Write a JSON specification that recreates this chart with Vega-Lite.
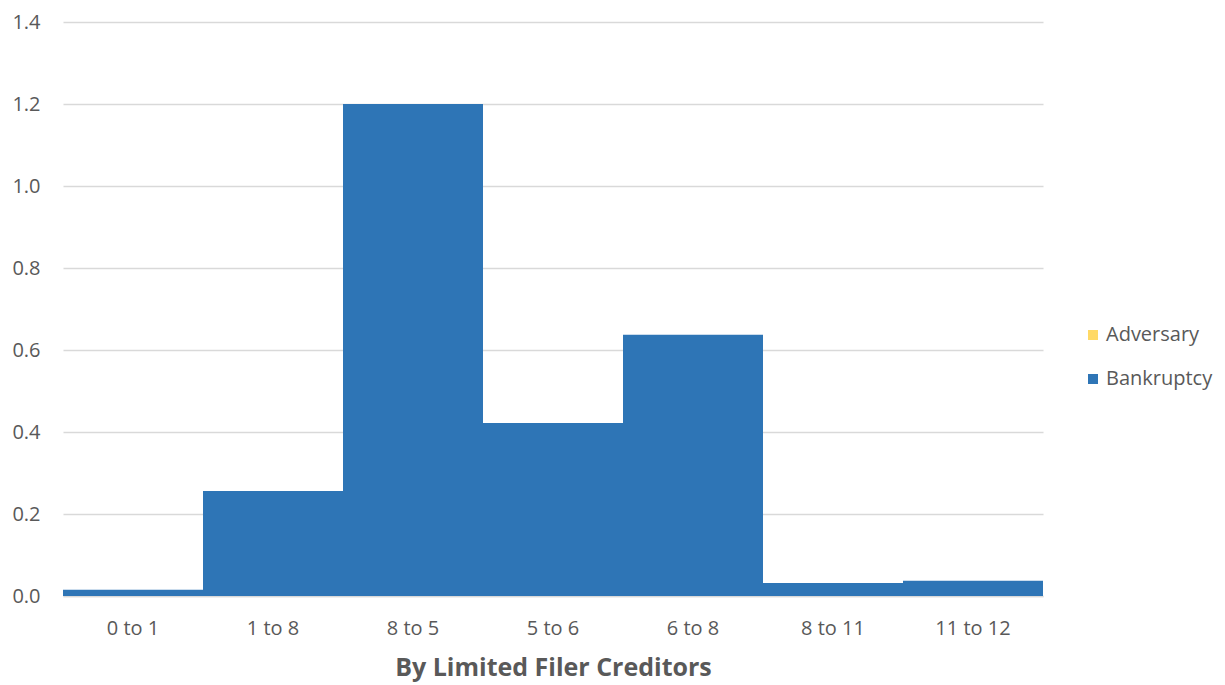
{
  "$schema": "https://vega.github.io/schema/vega-lite/v6.json",
  "autosize": "none",
  "width": 980,
  "height": 574,
  "padding": {"left": 63, "top": 22, "right": 182, "bottom": 89},
  "background": "white",
  "config": {"view": {"stroke": null}, "font": "Open Sans"},
  "data": {"values": [
    {"range": "0 to 1", "series": "Bankruptcy", "value": 0.015},
    {"range": "1 to 8", "series": "Bankruptcy", "value": 0.256},
    {"range": "8 to 5", "series": "Bankruptcy", "value": 1.2},
    {"range": "5 to 6", "series": "Bankruptcy", "value": 0.422},
    {"range": "6 to 8", "series": "Bankruptcy", "value": 0.637},
    {"range": "8 to 11", "series": "Bankruptcy", "value": 0.032},
    {"range": "11 to 12", "series": "Bankruptcy", "value": 0.037},
    {"range": "0 to 1", "series": "Adversary", "value": 0},
    {"range": "1 to 8", "series": "Adversary", "value": 0},
    {"range": "8 to 5", "series": "Adversary", "value": 0},
    {"range": "5 to 6", "series": "Adversary", "value": 0},
    {"range": "6 to 8", "series": "Adversary", "value": 0},
    {"range": "8 to 11", "series": "Adversary", "value": 0},
    {"range": "11 to 12", "series": "Adversary", "value": 0}
  ]},
  "mark": {"type": "bar"},
  "encoding": {
    "x": {
      "field": "range", "type": "nominal", "sort": null,
      "scale": {"paddingInner": 0, "paddingOuter": 0},
      "axis": {
        "title": "By Limited Filer Creditors",
        "titleFont": "Open Sans", "titleFontSize": 25, "titleFontWeight": "bold", "titleColor": "#595959",
        "titlePadding": 17,
        "labelAngle": 0, "labelFont": "Open Sans", "labelFontSize": 20, "labelColor": "#595959",
        "labelPadding": 22,
        "ticks": false, "domain": true, "domainColor": "#d9d9d9", "domainWidth": 1.5
      }
    },
    "y": {
      "field": "value", "type": "quantitative", "stack": "zero",
      "scale": {"domain": [0, 1.4]},
      "axis": {
        "title": null, "values": [0, 0.2, 0.4, 0.6, 0.8, 1.0, 1.2, 1.4], "format": ".1f",
        "labelFont": "Open Sans", "labelFontSize": 20, "labelColor": "#595959", "labelPadding": 23,
        "ticks": false, "domain": false, "grid": true, "gridColor": "#d9d9d9", "gridWidth": 1.3
      }
    },
    "color": {
      "field": "series", "type": "nominal",
      "scale": {"domain": ["Adversary", "Bankruptcy"], "range": ["#FFD966", "#2E75B6"]},
      "legend": {
        "title": null, "orient": "none", "legendX": 1020, "legendY": 303,
        "symbolType": "square", "symbolSize": 100, "symbolStrokeWidth": 0,
        "labelFont": "Open Sans", "labelFontSize": 20, "labelColor": "#595959",
        "rowPadding": 24, "labelOffset": 3
      }
    },
    "order": {"field": "series", "sort": "descending"}
  }
}
